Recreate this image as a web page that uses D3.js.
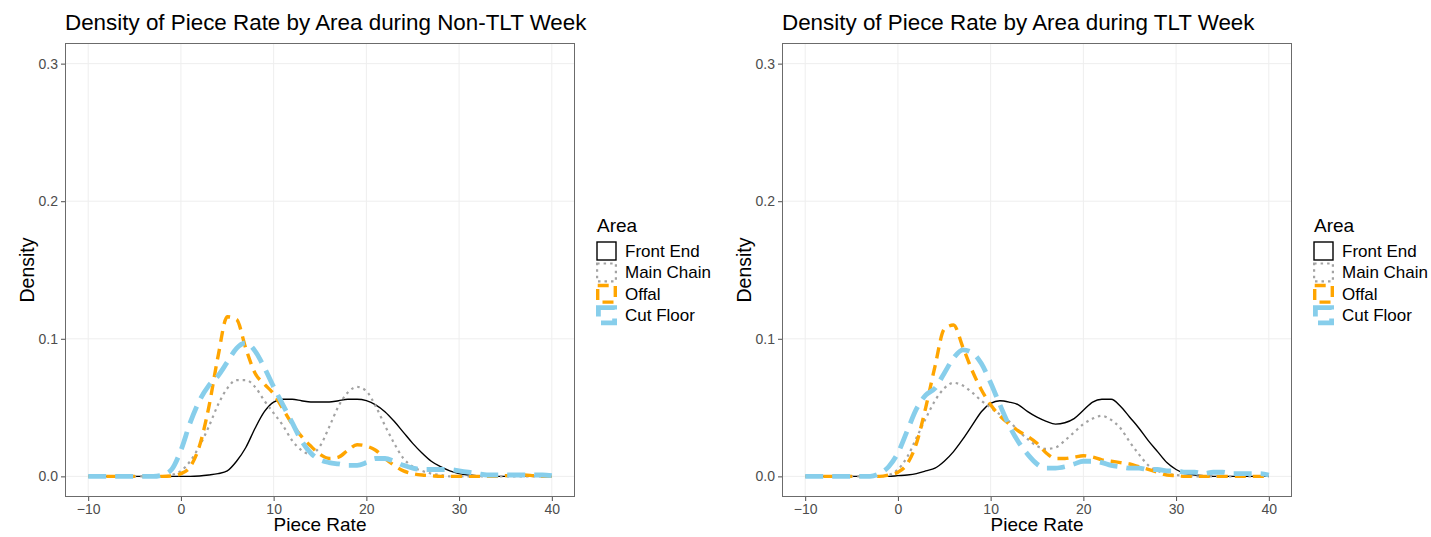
<!DOCTYPE html>
<meta charset="utf-8">
<head>
<style>
body { margin: 0; background: #fff; }
svg { font-family: "Liberation Sans", Arial, sans-serif; }
.grid line { stroke: #eeeeee; stroke-width: 1; }
.tick-label { fill: #4d4d4d; font-size: 14px; }
</style>
</head>
<body>
<div id="chart"></div>
<script src="https://d3js.org/d3.v7.min.js"></script>
<script>

// piece rate grid the densities were read at
var pieceRate = [-10,-9,-8,-7,-6,-5,-4,-3,-2,-1,0,1,2,3,4,5,6,7,8,9,10,11,12,13,14,15,16,17,18,19,20,
  21,22,23,24,25,26,27,28,29,30,31,32,33,34,35,36,37,38,39,40];

var areas = ["Front End", "Main Chain", "Offal", "Cut Floor"];
var xTicks = [-10, 0, 10, 20, 30, 40];
var yTicks = [0, 0.1, 0.2, 0.3];

// Non-TLT week
var nonTltFrontEnd = [0,0,0,0,0,0,0,0,0,0,
  0,0,0.0003,0.001,0.002,0.004,0.011,0.021,0.035,0.047,0.054,0.056,0.056,0.055,0.054,0.054,0.054,0.055,0.056,0.056,
  0.055,0.052,0.047,0.040,0.032,0.024,0.017,0.011,0.007,0.004,0.002,0.001,0.0005,0.0002,0,0,0,0,0,0,0];
var nonTltMainChain = [0,0,0,0,0,0,0,0,0,0.001,
  0.004,0.011,0.022,0.036,0.052,0.064,0.070,0.070,0.065,0.055,0.046,0.037,0.026,0.019,0.016,0.022,0.036,0.051,0.061,0.065,
  0.062,0.051,0.037,0.024,0.013,0.007,0.004,0.002,0.001,0,0,0,0,0,0,0,0,0,0,0,0];
var nonTltOffal = [0,0,0,0,0,0,0,0,0,0.0003,
  0.002,0.007,0.022,0.050,0.087,0.116,0.114,0.093,0.075,0.067,0.060,0.049,0.038,0.029,0.022,0.016,0.013,0.014,0.019,0.023,
  0.022,0.019,0.013,0.008,0.004,0.002,0.001,0.0005,0,0,0,0,0,0,0,0.0005,0.001,0.001,0.0005,0,0];
var nonTltCutFloor = [0,0,0,0,0,0,0,0,0.001,0.005,
  0.019,0.039,0.055,0.066,0.073,0.083,0.093,0.097,0.091,0.079,0.065,0.052,0.039,0.026,0.017,0.012,0.010,0.009,0.008,0.008,
  0.010,0.013,0.013,0.011,0.008,0.006,0.005,0.005,0.005,0.005,0.004,0.003,0.002,0.001,0.001,0.001,0.001,0.001,0.001,0.001,0.0005];

// TLT week
var tltFrontEnd = [0,0,0,0,0,0,0,0,0,0,
  0.0005,0.001,0.002,0.004,0.006,0.011,0.018,0.027,0.037,0.047,0.053,0.055,0.054,0.052,0.047,0.043,0.040,0.038,0.039,0.042,
  0.048,0.054,0.056,0.056,0.051,0.043,0.035,0.026,0.018,0.010,0.005,0.002,0.001,0.0005,0,0,0,0,0,0,0];
var tltMainChain = [0,0,0,0,0,0,0,0,0,0.001,
  0.005,0.014,0.028,0.042,0.055,0.064,0.068,0.066,0.061,0.055,0.050,0.045,0.040,0.033,0.027,0.022,0.020,0.021,0.026,0.032,
  0.038,0.042,0.044,0.041,0.035,0.025,0.016,0.008,0.004,0.002,0.001,0.0005,0,0,0,0,0,0,0,0,0];
var tltOffal = [0,0,0,0,0,0,0,0,0,0.001,
  0.003,0.009,0.024,0.050,0.080,0.107,0.110,0.094,0.077,0.063,0.052,0.044,0.038,0.033,0.029,0.024,0.017,0.013,0.013,0.014,
  0.015,0.014,0.012,0.011,0.010,0.009,0.007,0.005,0.003,0.001,0.0005,0,0,0,0,0,0,0,0,0,0];
var tltCutFloor = [0,0,0,0,0,0,0,0,0.002,0.007,
  0.017,0.033,0.049,0.059,0.064,0.075,0.086,0.092,0.090,0.082,0.068,0.052,0.037,0.025,0.016,0.009,0.006,0.006,0.007,0.009,
  0.011,0.011,0.010,0.008,0.007,0.006,0.006,0.005,0.005,0.004,0.004,0.003,0.003,0.002,0.003,0.003,0.002,0.002,0.002,0.002,0.001];

var styles = {
  "Front End":  {color: "#000000", width: 1.4, dash: null},
  "Main Chain": {color: "#a3a3a3", width: 2.2, dash: "2.5,4"},
  "Offal":      {color: "#FFA500", width: 3.4, dash: "11,7"},
  "Cut Floor":  {color: "#87CEEB", width: 4.8, dash: "18,9"}
};

var svg = d3.select("#chart").append("svg")
  .attr("width", 1431)
  .attr("height", 537);

function drawPanel(opts) {
  var x = d3.scaleLinear().domain([-12.5, 42.5]).range([opts.left, opts.left + 510]);
  var y = d3.scaleLinear().domain([-0.015, 0.315]).range([497, 43]);
  var g = svg.append("g");

  // grid
  var grid = g.append("g").attr("class", "grid");
  grid.selectAll(".vx").data(xTicks).enter().append("line")
    .attr("x1", function(d){ return x(d); }).attr("x2", function(d){ return x(d); })
    .attr("y1", y.range()[1]).attr("y2", y.range()[0]);
  grid.selectAll(".hy").data(yTicks).enter().append("line")
    .attr("x1", x.range()[0]).attr("x2", x.range()[1])
    .attr("y1", function(d){ return y(d); }).attr("y2", function(d){ return y(d); });

  // clip
  var clipId = "clip" + opts.id;
  svg.append("clipPath").attr("id", clipId).append("rect")
    .attr("x", x.range()[0]).attr("y", y.range()[1])
    .attr("width", 510).attr("height", 454);

  var line = d3.line()
    .x(function(d){ return x(d[0]); })
    .y(function(d){ return y(d[1]); })
    .curve(d3.curveMonotoneX);

  areas.forEach(function(a, i) {
    var vals = opts.series[i];
    var pts = pieceRate.map(function(p, j){ return [p, vals[j]]; });
    var s = styles[a];
    g.append("path")
      .attr("clip-path", "url(#" + clipId + ")")
      .attr("d", line(pts))
      .attr("fill", "none")
      .attr("stroke", s.color)
      .attr("stroke-width", s.width)
      .attr("stroke-dasharray", s.dash);
  });

  // border
  g.append("rect")
    .attr("x", x.range()[0] + 0.5).attr("y", y.range()[1] + 0.5)
    .attr("width", 509).attr("height", 453)
    .attr("fill", "none").attr("stroke", "#6b6b6b").attr("stroke-width", 1);

  // axes
  var xAxis = g.append("g").attr("transform", "translate(0," + 497 + ")");
  xAxis.call(d3.axisBottom(x).tickValues(xTicks).tickSize(4).tickPadding(3));
  var yAxis = g.append("g").attr("transform", "translate(" + x.range()[0] + ",0)");
  yAxis.call(d3.axisLeft(y).tickValues(yTicks).tickSize(4).tickPadding(3).tickFormat(d3.format(".1f")));
  [xAxis, yAxis].forEach(function(ax) {
    ax.select(".domain").remove();
    ax.selectAll(".tick line").attr("stroke", "#4d4d4d");
    ax.selectAll(".tick text").attr("class", "tick-label").attr("font-family", null).attr("font-size", null);
  });
  xAxis.selectAll(".tick text").attr("dy", "0.71em");

  // titles
  g.append("text")
    .attr("x", x.range()[0]).attr("y", 30)
    .attr("font-size", 22.4).attr("fill", "#000")
    .text(opts.title);
  g.append("text")
    .attr("x", (x.range()[0] + x.range()[1]) / 2).attr("y", 531)
    .attr("text-anchor", "middle").attr("font-size", 19).attr("fill", "#000")
    .text("Piece Rate");
  g.append("text")
    .attr("transform", "translate(" + (x.range()[0] - 31) + ",270) rotate(-90)")
    .attr("text-anchor", "middle").attr("font-size", 19.5).attr("fill", "#000")
    .text("Density");

  // legend
  var lx = x.range()[1] + 21;
  var lg = g.append("g").attr("transform", "translate(" + lx + ",0)");
  lg.append("text").attr("x", 1).attr("y", 232).attr("font-size", 19).text("Area");
  areas.forEach(function(a, i) {
    var s = styles[a];
    var ky = 241 + i * 21.4;
    var inset = Math.max(1, s.width / 2);
    lg.append("rect")
      .attr("x", inset).attr("y", ky + inset)
      .attr("width", 21 - 2 * inset).attr("height", 20 - 2 * inset)
      .attr("fill", "none").attr("stroke", s.color)
      .attr("stroke-width", s.width).attr("stroke-dasharray", s.dash);
    lg.append("text").attr("x", 29).attr("y", ky + 16).attr("font-size", 17).text(a);
  });
}

drawPanel({
  id: 1, left: 65,
  title: "Density of Piece Rate by Area during Non-TLT Week",
  series: [nonTltFrontEnd, nonTltMainChain, nonTltOffal, nonTltCutFloor]
});
drawPanel({
  id: 2, left: 782,
  title: "Density of Piece Rate by Area during TLT Week",
  series: [tltFrontEnd, tltMainChain, tltOffal, tltCutFloor]
});

</script>
</body>
</html>
